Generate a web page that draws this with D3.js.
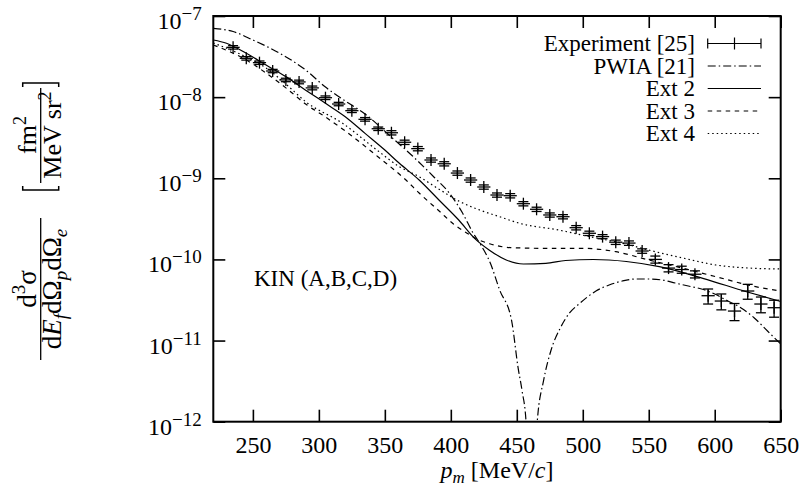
<!DOCTYPE html>
<html>
<head>
<meta charset="utf-8">
<title>KIN (A,B,C,D)</title>
<script src="https://cdn.jsdelivr.net/npm/d3@7"></script>
<style>
  body { margin: 0; background: #fff; }
  svg text { font-family: "Liberation Serif", "Times New Roman", serif; fill: #000; }
</style>
</head>
<body>
<div id="chart"></div>
<script>
const xTicks = [250, 300, 350, 400, 450, 500, 550, 600, 650];
const yTicks = [1e-12, 1e-11, 1e-10, 1e-9, 1e-8, 1e-7];
const yTickExp = ["−12", "−11", "−10", "−9", "−8", "−7"];

// experiment [25]
const expP = [235, 245, 255, 265, 275, 285, 295, 305, 315, 325, 335, 345,
  355, 365, 375, 385, 395, 405, 415, 425, 435, 445, 455, 465, 475, 485,
  495, 505, 515, 525, 535, 545, 555, 565, 575, 585, 595, 605, 615, 625, 635, 645];
const expV = [4.11e-8, 3.01e-8, 2.66e-8, 2.10e-8, 1.63e-8, 1.54e-8, 1.30e-8, 9.84e-9, 8.23e-9, 6.81e-9, 5.33e-9, 4.08e-9,
  3.64e-9, 2.78e-9, 2.32e-9, 1.68e-9, 1.51e-9, 1.16e-9, 9.52e-10, 7.81e-10, 6.22e-10, 6.10e-10, 4.86e-10, 4.15e-10, 3.53e-10, 3.36e-10,
  2.46e-10, 2.10e-10, 1.91e-10, 1.63e-10, 1.59e-10, 1.27e-10, 1.00e-10, 7.82e-11, 7.50e-11, 6.57e-11, 3.57e-11, 3.07e-11, 2.31e-11, 4.08e-11, 2.82e-11, 2.54e-11];
const expErr = [0.20e-8, 0.15e-8, 0.13e-8, 0.10e-8, 0.08e-8, 0.08e-8, 0.07e-8, 0.5e-9, 0.4e-9, 0.35e-9, 0.27e-9, 0.2e-9,
  0.22e-9, 0.17e-9, 0.14e-9, 0.1e-9, 0.09e-9, 0.07e-9, 0.57e-10, 0.47e-10, 0.37e-10, 0.37e-10, 0.29e-10, 0.25e-10, 0.21e-10, 0.2e-10,
  0.15e-10, 0.13e-10, 0.11e-10, 0.1e-10, 0.1e-10, 0.08e-10, 0.1e-10, 0.8e-11, 0.75e-11, 0.66e-11, 0.75e-11, 0.68e-11, 0.55e-11, 0.85e-11, 0.62e-11, 0.6e-11];
const expPErr = 5;

// PWIA [21]
const pwiaP = [220, 235, 250, 270, 290, 305, 320, 335, 354, 371, 387, 399, 409, 417, 422, 430, 437, 446, 451, 454, 457, 461,
  465.5, 470.4, 476, 483, 490, 498, 510, 520, 530, 540, 550, 560, 570, 580, 590, 600, 610, 620, 630, 640, 650];
const pwiaV = [7.05e-8, 6.44e-8, 5.06e-8, 3.50e-8, 2.16e-8, 1.33e-8, 8.96e-9, 6.2e-9, 3.32e-9, 1.88e-9, 1.045e-9, 6.53e-10, 3.70e-10, 2.10e-10, 1.58e-10, 8.96e-11, 4.20e-11, 1.79e-11, 4.6e-12, 2.4e-12, 1.0e-12, 1e-14,
  1.0e-12, 3.27e-12, 7.65e-12, 1.43e-11, 2.19e-11, 2.90e-11, 4.08e-11, 4.84e-11, 5.42e-11, 5.74e-11, 5.74e-11, 5.58e-11, 5.12e-11, 4.70e-11, 4.32e-11, 3.75e-11, 3.07e-11, 2.52e-11, 1.90e-11, 1.31e-11, 9.07e-12];

// Ext 2
const ext2P = [220, 230, 245, 260, 275, 290, 305, 320, 335, 350, 361, 376, 391, 406, 418, 429, 442, 455, 472, 487, 508, 533, 558, 591, 624, 650];
const ext2V = [5.06e-8, 4.61e-8, 3.47e-8, 2.49e-8, 1.79e-8, 1.22e-8, 8.39e-9, 5.74e-9, 3.58e-9, 2.23e-9, 1.53e-9, 9.52e-10, 5.40e-10, 3.06e-10, 1.82e-10, 1.31e-10, 9.84e-11, 8.78e-11, 8.96e-11, 9.70e-11, 9.98e-11, 9.43e-11, 8.14e-11, 5.85e-11, 4.0e-11, 3.03e-11];

// Ext 3
const ext3P = [220, 245, 260, 275, 290, 305, 320, 345, 366, 376, 392, 402, 412, 420, 430, 445, 470, 500, 525, 550, 576, 601, 631, 650];
const ext3V = [4.39e-8, 2.87e-8, 1.98e-8, 1.30e-8, 8.23e-9, 5.69e-9, 3.83e-9, 1.83e-9, 9.52e-10, 6.58e-10, 3.84e-10, 2.73e-10, 2.12e-10, 1.78e-10, 1.55e-10, 1.40e-10, 1.37e-10, 1.37e-10, 1.245e-10, 9.84e-11, 7.77e-11, 6.12e-11, 4.61e-11, 4.08e-11];

// Ext 4
const ext4P = [220, 245, 260, 275, 290, 318, 344, 361, 376, 392, 407, 422, 437, 452, 482, 505, 530, 555, 576, 601, 625, 650];
const ext4V = [4.65e-8, 3.12e-8, 2.29e-8, 1.45e-8, 8.79e-9, 4.76e-9, 2.23e-9, 1.39e-9, 1.045e-9, 7.17e-10, 5.14e-10, 4.06e-10, 3.36e-10, 2.79e-10, 2.30e-10, 1.91e-10, 1.58e-10, 1.245e-10, 1.04e-10, 8.53e-11, 7.84e-11, 7.62e-11];

const W = 803, H = 486;
const margin = { top: 16, right: 22.3, bottom: 64.3, left: 213.3 };
const w = W - margin.left - margin.right;
const h = H - margin.top - margin.bottom;

const svg = d3.select("#chart").append("svg")
  .attr("width", W).attr("height", H);

const g = svg.append("g")
  .attr("transform", `translate(${margin.left},${margin.top})`);

const x = d3.scaleLinear().domain([220, 650]).range([0, w]);
const y = d3.scaleLog().domain([1e-12, 1e-7]).range([h, 0]);

svg.append("defs").append("clipPath").attr("id", "plot-clip")
  .append("rect").attr("width", w).attr("height", h);

// axes (ticks inward, mirrored)
const fontFam = '"Liberation Serif", "Times New Roman", serif';
function styleAxis(sel) {
  sel.select(".domain").remove();
  sel.selectAll(".tick line").attr("stroke", "#000").attr("stroke-width", 1.6);
  sel.attr("font-family", fontFam).attr("font-size", 24);
}

g.append("g")
  .attr("transform", `translate(0,${h})`)
  .call(d3.axisBottom(x).tickValues(xTicks).tickSize(-12).tickPadding(14).tickFormat(d3.format("d")))
  .call(styleAxis);

g.append("g")
  .call(d3.axisTop(x).tickValues(xTicks).tickSize(-12).tickFormat(""))
  .call(styleAxis);

const yAxis = g.append("g")
  .call(d3.axisLeft(y).tickValues(yTicks).tickSize(-12).tickFormat(""))
  .call(styleAxis);

yAxis.selectAll(".tick text").remove();
yAxis.selectAll(".tick").each(function (d, i) {
  const t = d3.select(this).append("text")
    .attr("x", -11.6).attr("y", 12.5)
    .attr("text-anchor", "end")
    .attr("font-size", 24);
  t.append("tspan").text("10");
  t.append("tspan").attr("dy", -9).attr("font-size", 19).text(yTickExp[i]);
});

g.append("g")
  .attr("transform", `translate(${w},0)`)
  .call(d3.axisRight(y).tickValues(yTicks).tickSize(-12).tickFormat(""))
  .call(styleAxis);

g.append("rect")
  .attr("width", w).attr("height", h)
  .attr("fill", "none").attr("stroke", "#000").attr("stroke-width", 2);

// theory curves
const line = d3.line()
  .x(d => x(d[0]))
  .y(d => y(d[1]))
  .curve(d3.curveMonotoneX);

const curves = [
  { p: pwiaP, v: pwiaV, dash: "8,3,1.5,3" },
  { p: ext2P, v: ext2V, dash: null },
  { p: ext3P, v: ext3V, dash: "4.5,4.5" },
  { p: ext4P, v: ext4V, dash: "1.5,3" }
];

const curveG = g.append("g").attr("clip-path", "url(#plot-clip)");
curves.forEach(c => {
  curveG.append("path")
    .datum(d3.zip(c.p, c.v))
    .attr("d", line)
    .attr("fill", "none")
    .attr("stroke", "#000")
    .attr("stroke-width", 1.2)
    .attr("stroke-dasharray", c.dash);
});

// experimental points with error bars
const pts = d3.zip(expP, expV, expErr);
const ptG = g.append("g").attr("stroke", "#000").attr("stroke-width", 1.3)
  .selectAll("g").data(pts).join("g");

ptG.append("line")
  .attr("x1", d => x(d[0] - expPErr)).attr("x2", d => x(d[0] + expPErr))
  .attr("y1", d => y(d[1])).attr("y2", d => y(d[1]));
ptG.append("line")
  .attr("x1", d => x(d[0])).attr("x2", d => x(d[0]))
  .attr("y1", d => y(d[1] - d[2])).attr("y2", d => y(d[1] + d[2]));
ptG.append("line")
  .attr("x1", d => x(d[0]) - 5).attr("x2", d => x(d[0]) + 5)
  .attr("y1", d => y(d[1] - d[2])).attr("y2", d => y(d[1] - d[2]));
ptG.append("line")
  .attr("x1", d => x(d[0]) - 5).attr("x2", d => x(d[0]) + 5)
  .attr("y1", d => y(d[1] + d[2])).attr("y2", d => y(d[1] + d[2]));
ptG.append("line")
  .attr("x1", d => x(d[0])).attr("x2", d => x(d[0]))
  .attr("y1", d => y(d[1]) - 6).attr("y2", d => y(d[1]) + 6);

// legend
const legend = [
  { label: "Experiment [25]", dash: null, exp: true },
  { label: "PWIA [21]", dash: "8,3,1.5,3" },
  { label: "Ext 2", dash: null },
  { label: "Ext 3", dash: "4.5,4.5" },
  { label: "Ext 4", dash: "1.5,3" }
];
const lg = svg.append("g");
legend.forEach((d, i) => {
  const cy = 43.5 + i * 22.5;
  lg.append("text").attr("x", 695).attr("y", cy + 7.5)
    .attr("text-anchor", "end").attr("font-size", 23).text(d.label);
  lg.append("line").attr("x1", 707.7).attr("x2", 761).attr("y1", cy).attr("y2", cy)
    .attr("stroke", "#000").attr("stroke-width", 1.2).attr("stroke-dasharray", d.dash);
  if (d.exp) {
    [707.7, 761].forEach(xx => lg.append("line").attr("x1", xx).attr("x2", xx)
      .attr("y1", cy - 5).attr("y2", cy + 5).attr("stroke", "#000").attr("stroke-width", 1.2));
    lg.append("line").attr("x1", 734.5).attr("x2", 734.5).attr("y1", cy - 6).attr("y2", cy + 6)
      .attr("stroke", "#000").attr("stroke-width", 1.2);
  }
});

// annotation
svg.append("text").attr("x", 254).attr("y", 286).attr("font-size", 23).text("KIN (A,B,C,D)");

// x label
const xl = svg.append("text").attr("x", margin.left + w / 2).attr("y", 478)
  .attr("text-anchor", "middle").attr("font-size", 24);
xl.append("tspan").attr("font-style", "italic").text("p");
xl.append("tspan").attr("font-style", "italic").attr("font-size", 17).attr("dy", 5).text("m");
xl.append("tspan").attr("dy", -5).text(" [MeV/");
xl.append("tspan").attr("font-style", "italic").text("c");
xl.append("tspan").text("]");

// y label
const yl = svg.append("g").attr("transform", "translate(40.7,289) rotate(-90)");
yl.append("line").attr("x1", -71).attr("x2", 71).attr("stroke", "#000").attr("stroke-width", 1.3);
const num = yl.append("text").attr("x", 0).attr("y", -5).attr("text-anchor", "middle").attr("font-size", 27);
num.append("tspan").text("d");
num.append("tspan").attr("font-size", 19).attr("dy", -11).text("3");
num.append("tspan").attr("dy", 11).text("σ");
const den = yl.append("text").attr("x", 0).attr("y", 20).attr("text-anchor", "middle").attr("font-size", 27);
den.append("tspan").text("d");
den.append("tspan").attr("font-style", "italic").text("E");
den.append("tspan").attr("font-style", "italic").attr("font-size", 19).attr("dy", 6).text("f");
den.append("tspan").attr("dy", -6).text("dΩ");
den.append("tspan").attr("font-style", "italic").attr("font-size", 19).attr("dy", 6).text("p");
den.append("tspan").attr("dy", -6).text("dΩ");
den.append("tspan").attr("font-style", "italic").attr("font-size", 19).attr("dy", 6).text("e");

yl.append("line").attr("x1", 106).attr("x2", 201).attr("stroke", "#000").attr("stroke-width", 1.3);
const un = yl.append("text").attr("x", 154).attr("y", -5).attr("text-anchor", "middle").attr("font-size", 26);
un.append("tspan").text("fm");
un.append("tspan").attr("font-size", 18).attr("dy", -10).text("2");
const ud = yl.append("text").attr("x", 154).attr("y", 20).attr("text-anchor", "middle").attr("font-size", 26);
ud.append("tspan").text("MeV sr");
ud.append("tspan").attr("font-size", 18).attr("dy", -10).text("2");
yl.append("path").attr("d", "M103,-18 L99,-18 L99,18 L103,18")
  .attr("fill", "none").attr("stroke", "#000").attr("stroke-width", 1.5);
yl.append("path").attr("d", "M202,-18 L206,-18 L206,18 L202,18")
  .attr("fill", "none").attr("stroke", "#000").attr("stroke-width", 1.5);
</script>
</body>
</html>
